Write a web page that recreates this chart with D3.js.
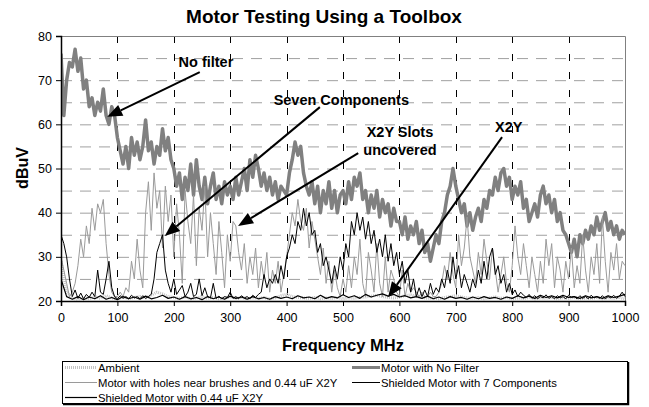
<!DOCTYPE html>
<html>
<head>
<meta charset="utf-8">
<script src="https://cdn.jsdelivr.net/npm/d3@7/dist/d3.min.js"></script>
<style>
  body { margin: 0; background: #fff; }
  text { font-family: Arial, "Liberation Sans", sans-serif; }
</style>
</head>
<body>
<svg id="chart" width="649" height="407"></svg>
<script>
// ---- data (dBuV) ----
var seriesNames = [
    "Ambient",
    "Motor  with No Filter",
    "Motor with holes near brushes and 0.44 uF X2Y",
    "Shielded Motor with 7 Components",
    "Shielded Motor with 0.44 uF X2Y"
];

// frequency grid, MHz
var freqFine = d3.range(0, 1001, 5);
var freqCoarse = d3.range(0, 1001, 10);

var xTicks = [0, 100, 200, 300, 400, 500, 600, 700, 800, 900, 1000];
var yTicks = [20, 30, 40, 50, 60, 70, 80];

// 10 MHz steps
var ambient = [
    29, 22, 20.6, 20.4, 20.8, 20.5, 21, 20.6, 21.2, 20.7,
    20.5, 20.9, 20.6, 20.8, 21, 20.7, 21.3, 22, 21.6, 21,
    20.8, 20.6, 20.9, 20.5, 20.7, 21, 20.6, 20.8, 20.5, 20.7,
    20.9, 20.6, 20.8, 20.5, 20.7, 20.6, 20.8, 20.5, 20.7, 21.2,
    21.5, 21, 20.8, 20.7, 20.6, 20.8, 20.5, 20.7, 20.6, 20.8,
    20.5, 20.7, 20.6, 20.8, 20.9, 21.1, 21.3, 21, 20.8, 20.7,
    20.9, 21.2, 21.4, 21, 20.8, 20.6, 20.7, 20.5, 20.8, 21,
    21.2, 20.9, 20.7, 20.6, 20.8, 20.5, 20.7, 20.9, 20.6, 20.8,
    20.5, 20.7, 20.6, 20.8, 20.5, 20.7, 20.6, 20.8, 20.5, 20.7,
    20.6, 20.8, 20.5, 20.7, 20.6, 20.8, 20.5, 20.7, 20.6, 20.8,
    20.5
];

// 5 MHz steps
var noFilter = [
    76, 62, 70, 74, 73, 77, 72, 75, 68, 70, 64, 66, 62, 65, 63, 68, 62, 60, 64, 62,
    57, 54, 51, 55, 50, 57, 53, 56, 52, 55, 61, 54, 56, 51, 55, 53, 59, 54, 57, 52,
    50, 46, 49, 43, 48, 45, 51, 44, 52, 46, 43, 48, 42, 46, 49, 43, 46, 42, 47, 44,
    46, 43, 48, 44, 47, 50, 45, 52, 48, 53, 50, 46, 49, 45, 48, 44, 47, 43, 46, 45,
    44, 49, 52, 56, 53, 55, 49, 46, 44, 47, 42, 46, 40, 45, 42, 47, 41, 45, 40, 44,
    45, 42, 47, 43, 48, 46, 49, 43, 45, 40, 44, 41, 45, 39, 43, 40, 42, 37, 41, 38,
    38, 35, 39, 34, 37, 35, 38, 33, 36, 31, 33, 29, 32, 35, 33, 38, 40, 44, 46, 50,
    46, 43, 40, 42, 37, 40, 36, 39, 41, 38, 43, 41, 45, 44, 48, 45, 49, 50, 46, 48,
    43, 46, 44, 47, 41, 43, 38, 40, 42, 39, 44, 46, 42, 44, 40, 43, 38, 40, 36, 35,
    33, 31, 34, 30, 35, 33, 36, 34, 37, 35, 39, 36, 38, 40, 36, 38, 35, 37, 34, 36,
    35
];

var holes = [
    30, 27, 24, 21, 22, 24, 28, 34, 30, 37, 33, 41, 36, 42, 40, 43, 33, 26, 22, 21,
    21, 22, 21, 23, 22, 29, 25, 34, 27, 23, 40, 47, 36, 49, 41, 45, 32, 46, 38, 44,
    30, 42, 35, 24, 45, 38, 33, 44, 28, 41, 36, 46, 30, 40, 33, 26, 38, 31, 23, 35,
    29, 38, 37, 31, 27, 33, 24, 30, 26, 32, 23, 29, 25, 31, 22, 27, 24, 29, 22, 26,
    30, 35, 40, 37, 43, 38, 36, 41, 32, 38, 34, 30, 26, 32, 24, 29, 22, 27, 23, 21,
    25, 22, 28, 23, 30, 26, 34, 24, 21, 31, 27, 22, 33, 24, 21, 30, 22, 27, 25, 22,
    21, 27, 21, 24, 22, 23, 22, 21, 22, 21, 21, 22, 21, 21, 22, 24, 28, 25, 31, 26,
    23, 35, 28, 32, 39, 30, 27, 24, 31, 26, 34, 29, 25, 32, 27, 22, 26, 30, 24, 22,
    28, 37, 30, 26, 33, 28, 23, 30, 26, 22, 29, 24, 34, 28, 33, 23, 30, 27, 22, 29,
    25, 32, 23, 28, 24, 35, 27, 22, 30, 26, 33, 24, 39, 29, 22, 31, 27, 33, 25, 29,
    28
];

var sevenComp = [
    35, 33, 30, 25, 21, 22.5, 20.6, 21.8, 20.5, 21.5, 20.8, 22, 21, 27, 22, 21.5, 25, 29, 23, 21,
    20.5, 21.2, 20.6, 21, 20.5, 21.3, 20.7, 21, 20.5, 21.2, 20.6, 21, 21.5, 25, 31, 33, 35, 27, 24, 22,
    25, 21.5, 22.5, 23.5, 21, 22, 24, 21, 21.5, 25, 21.2, 23, 21, 20.7, 24, 20.6, 21.1, 20.5, 21, 20.8,
    22, 20.6, 21, 20.5, 21.2, 20.7, 21, 20.5, 21.3, 20.8, 21.5, 22, 26, 23, 25, 24, 26, 24, 28, 25,
    30, 32, 35, 33, 38, 36, 41, 37, 40, 35, 36, 31, 33, 28, 30, 27, 24, 28, 25, 30,
    27, 33, 30, 38, 35, 40, 36, 39, 34, 38, 33, 36, 31, 34, 30, 35, 29, 33, 28, 31,
    26, 29, 24, 27, 22, 25, 21, 23, 21, 22.5, 21, 24, 21.5, 23, 22, 25, 23, 27, 24, 30,
    25, 28, 23, 26, 24, 22, 25, 23, 27, 24, 29, 25, 30, 32, 26, 28, 24, 26, 22, 24,
    21.5, 22.5, 21, 22, 21.3, 20.8, 21.5, 20.6, 21.2, 20.5, 21, 20.7, 21.4, 20.6, 21, 20.5, 21.2, 20.7, 21, 20.5,
    21.3, 20.8, 21, 20.5, 21.2, 20.6, 21, 20.5, 21.3, 20.7, 21, 20.6, 21.2, 20.5, 21, 20.7, 21.3, 20.6, 21.1, 22,
    21
];

// 10 MHz steps
var shieldedX2Y = [
    25, 21, 20.4, 21, 20.3, 20.9, 20.5, 21.2, 20.4, 20.8,
    20.3, 21, 20.5, 20.9, 20.4, 21.1, 20.5, 20.8, 21.3, 20.6,
    20.9, 20.4, 21, 20.5, 20.8, 20.3, 21, 20.5, 20.9, 20.4,
    21.1, 20.6, 20.9, 20.4, 21, 20.5, 20.8, 20.4, 21, 20.6,
    20.9, 20.5, 21.2, 20.7, 20.9, 20.5, 21.3, 20.6, 21, 20.7,
    21.4, 20.8, 21.2, 20.6, 21.5, 20.9, 21.3, 21.6, 21.1, 21.5,
    20.9, 21.2, 20.7, 21, 20.6, 21.1, 20.5, 20.9, 20.4, 21,
    20.6, 20.8, 20.4, 20.9, 20.5, 21, 20.6, 20.8, 20.4, 20.9,
    20.6, 21.2, 20.7, 21.1, 20.6, 21.3, 20.8, 21.2, 20.7, 21.3,
    20.8, 21, 20.6, 21.2, 20.7, 21, 20.6, 21.2, 20.8, 21.1,
    21.5
];

// callouts, in data units (MHz, dBuV)
var callouts = [
    { text: ["No filter"], at: [257, 73], from: [246, 71.8], to: [82, 61.7] },
    { text: ["Seven Components"], at: [497, 64.4], from: [459, 63.9], to: [184, 34.7] },
    { text: ["X2Y Slots", "uncovered"], at: [601, 57.1], from: [527, 53.5], to: [314, 37] },
    { text: ["X2Y"], at: [794, 58.3], from: [782, 57.1], to: [580, 20.9] }
];

// ---- drawing ----
var svg = d3.select("#chart");
var plot = { left: 61, right: 625, top: 36, bottom: 301 };

var x = d3.scaleLinear().domain([0, 1000]).range([plot.left, plot.right]);
var y = d3.scaleLinear().domain([20, 80]).range([plot.bottom, plot.top]);

svg.append("rect").attr("width", 649).attr("height", 407).attr("fill", "#fff");

// title
svg.append("text")
    .attr("x", 324).attr("y", 23)
    .attr("text-anchor", "middle")
    .style("font-size", "19px").style("font-weight", "bold")
    .text("Motor Testing Using a Toolbox");

// horizontal grid every 5 dB
svg.append("g")
    .selectAll("line").data(d3.range(25, 80, 5))
    .enter().append("line")
    .attr("x1", plot.left).attr("x2", plot.right)
    .attr("y1", function (d) { return y(d) + 0.5; })
    .attr("y2", function (d) { return y(d) + 0.5; })
    .attr("stroke", "#a0a0a0").attr("stroke-dasharray", "11,8");

// vertical grid
svg.append("g")
    .selectAll("line").data(xTicks.slice(1, -1))
    .enter().append("line")
    .attr("x1", function (d) { return Math.round(x(d)) + 0.5; })
    .attr("x2", function (d) { return Math.round(x(d)) + 0.5; })
    .attr("y1", plot.top).attr("y2", plot.bottom)
    .attr("stroke", "#000").attr("stroke-dasharray", "7,11");

// frame top/right
svg.append("path")
    .attr("d", "M" + plot.left + "," + (plot.top + 0.5) + "H" + (plot.right + 0.5) + "V" + plot.bottom)
    .attr("fill", "none").attr("stroke", "#808080");

// series
svg.append("clipPath").attr("id", "clip")
    .append("rect")
    .attr("x", plot.left).attr("y", plot.top - 2)
    .attr("width", plot.right - plot.left + 1).attr("height", plot.bottom - plot.top + 2);

var styles = [
    { color: "#c4c4c4", width: 3, dash: "1,1" },
    { color: "#808080", width: 3.5, dash: null },
    { color: "#9a9a9a", width: 1, dash: null },
    { color: "#000", width: 1, dash: null },
    { color: "#000", width: 1.2, dash: null }
];

var seriesData = [
    { f: freqCoarse, v: ambient },
    { f: freqFine, v: noFilter },
    { f: freqFine, v: holes },
    { f: freqFine, v: sevenComp },
    { f: freqCoarse, v: shieldedX2Y }
];

var line = d3.line()
    .x(function (d) { return x(d[0]); })
    .y(function (d) { return y(d[1]); });

var gSeries = svg.append("g").attr("clip-path", "url(#clip)");
seriesData.forEach(function (s, i) {
    var pts = s.f.map(function (f, k) { return [f, s.v[k]]; });
    gSeries.append("path")
        .attr("d", line(pts))
        .attr("fill", "none")
        .attr("stroke", styles[i].color)
        .attr("stroke-width", styles[i].width)
        .attr("stroke-dasharray", styles[i].dash)
        .attr("stroke-linejoin", "round");
});

// axes
var xAxis = svg.append("g")
    .attr("transform", "translate(0," + plot.bottom + ")")
    .call(d3.axisBottom(x).tickValues(xTicks).tickFormat(d3.format("d")).tickSize(5).tickPadding(7));
var yAxis = svg.append("g")
    .attr("transform", "translate(" + plot.left + ",0)")
    .call(d3.axisLeft(y).tickValues(yTicks).tickSize(5).tickPadding(4));

[xAxis, yAxis].forEach(function (a) {
    a.select(".domain").attr("stroke", "#000").attr("stroke-width", 1.5);
    a.selectAll(".tick line").attr("stroke", "#000");
    a.selectAll(".tick text")
        .style("font-family", "Arial, 'Liberation Sans', sans-serif")
        .style("font-size", "12.5px").attr("fill", "#000");
});

// axis titles
svg.append("text")
    .attr("x", 343).attr("y", 351)
    .attr("text-anchor", "middle")
    .style("font-size", "16.5px").style("font-weight", "bold")
    .text("Frequency MHz");

svg.append("text")
    .attr("transform", "translate(28,168) rotate(-90)")
    .attr("text-anchor", "middle")
    .style("font-size", "16px").style("font-weight", "bold")
    .text("dBuV");

// callouts
var gCall = svg.append("g");
callouts.forEach(function (c) {
    var x0 = x(c.from[0]), y0 = y(c.from[1]);
    var x1 = x(c.to[0]), y1 = y(c.to[1]);
    var dx = x1 - x0, dy = y1 - y0, len = Math.sqrt(dx * dx + dy * dy);
    var ux = dx / len, uy = dy / len;
    var headLen = 15, headHalf = 6;
    var bx = x1 - ux * headLen, by = y1 - uy * headLen;

    gCall.append("line")
        .attr("x1", x0).attr("y1", y0).attr("x2", bx).attr("y2", by)
        .attr("stroke", "#000").attr("stroke-width", 2);
    gCall.append("polygon")
        .attr("points", [
            [x1, y1],
            [bx - uy * headHalf, by + ux * headHalf],
            [bx + uy * headHalf, by - ux * headHalf]
        ].map(function (p) { return p.join(","); }).join(" "))
        .attr("fill", "#000");

    c.text.forEach(function (t, k) {
        gCall.append("text")
            .attr("x", x(c.at[0]))
            .attr("y", y(c.at[1]) + k * 18)
            .attr("text-anchor", "middle")
            .style("font-size", "14.5px").style("font-weight", "bold")
            .text(t);
    });
});

// legend
var leg = svg.append("g");
leg.append("rect")
    .attr("x", 62.5).attr("y", 361.5).attr("width", 565).attr("height", 42)
    .attr("fill", "#fff").attr("stroke", "#000");
leg.append("path")
    .attr("d", "M63,404.5H628.5V362")
    .attr("fill", "none").attr("stroke", "#000").attr("stroke-width", 1.5);

var legPos = [
    { col: 0, row: 0 }, { col: 1, row: 0 },
    { col: 0, row: 1 }, { col: 1, row: 1 },
    { col: 0, row: 2 }
];
var colX = [65, 352], colLen = [32, 28];

seriesNames.forEach(function (name, i) {
    var p = legPos[i];
    var ly = 367.5 + p.row * 15;
    leg.append("line")
        .attr("x1", colX[p.col]).attr("x2", colX[p.col] + colLen[p.col])
        .attr("y1", ly).attr("y2", ly)
        .attr("stroke", styles[i].color)
        .attr("stroke-width", Math.min(styles[i].width, 3))
        .attr("stroke-dasharray", styles[i].dash);
    leg.append("text")
        .attr("x", colX[p.col] + colLen[p.col] + 1)
        .attr("y", ly + 4)
        .style("font-size", "11.3px")
        .text(name);
});
</script>
</body>
</html>
